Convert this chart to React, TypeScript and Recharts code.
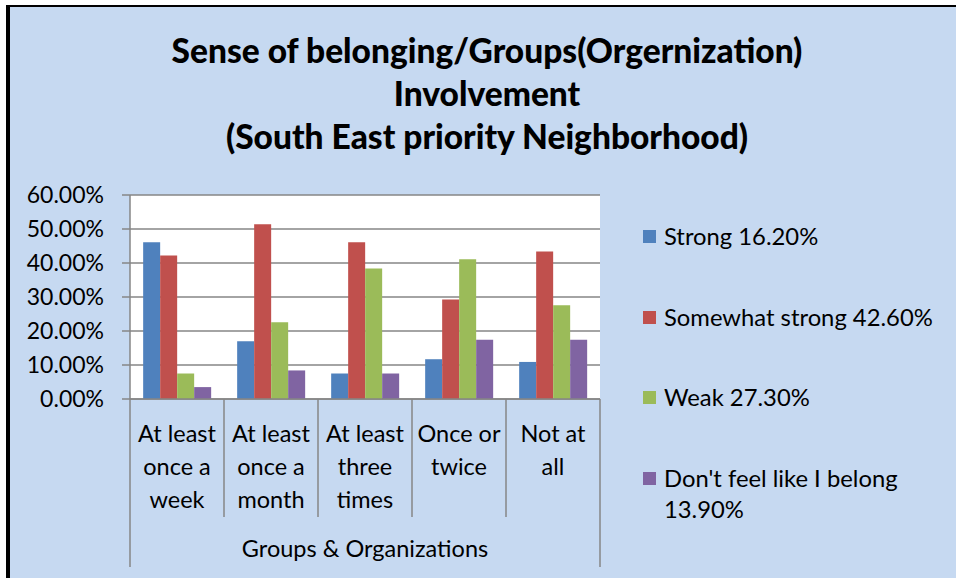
import { BarChart, Bar, XAxis, YAxis, CartesianGrid } from 'recharts'

const titleLines = [
    'Sense of belonging/Groups(Orgernization)',
    'Involvement',
    '(South East priority Neighborhood)',
]
const categories = [
    'At least\nonce a\nweek',
    'At least\nonce a\nmonth',
    'At least\nthree\ntimes',
    'Once or\ntwice',
    'Not at\nall',
]
const groupLabel = 'Groups & Organizations'
const strong = [46.1, 17.0, 7.5, 11.7, 10.9]
const somewhatStrong = [42.2, 51.4, 46.1, 29.3, 43.4]
const weak = [7.5, 22.6, 38.4, 41.1, 27.6]
const dontBelong = [3.5, 8.4, 7.5, 17.4, 17.4]
const seriesNames = ['Strong 16.20%', 'Somewhat strong 42.60%', 'Weak 27.30%', "Don't feel like I belong 13.90%"]
const seriesColors = ['#4F81BD', '#C0504D', '#9BBB59', '#8064A2']
const yTicks = [0, 10, 20, 30, 40, 50, 60]

const data = categories.map((name, i) => ({
    name,
    s0: strong[i],
    s1: somewhatStrong[i],
    s2: weak[i],
    s3: dontBelong[i],
}))

const FONT = 'Lato, "Open Sans", sans-serif'
const AXIS_GRAY = '#868686'

function CategoryTick(props: any) {
    const { x, y, payload, index } = props
    const half = payload.offset ?? 47
    const lines = String(payload.value).split('\n')
    const isLast = index === categories.length - 1
    return (
        <g>
            <line x1={x - half} y1={y} x2={x - half} y2={index === 0 ? y + 168 : y + 118} stroke={AXIS_GRAY} strokeWidth={1.5} />
            {isLast && <line x1={x + half} y1={y} x2={x + half} y2={y + 168} stroke={AXIS_GRAY} strokeWidth={1.5} />}
            <text textAnchor="middle" fontSize={23.5} fill="#000" fontFamily={FONT}>
                {lines.map((l, i) => (
                    <tspan key={i} x={x} y={y + 43 + i * 33}>{l}</tspan>
                ))}
            </text>
            {index === 2 && (
                <text x={x} y={y + 158} textAnchor="middle" fontSize={23.5} fill="#000" fontFamily={FONT}>
                    {groupLabel}
                </text>
            )}
        </g>
    )
}

export default function App() {
    return (
        <div style={{ position: 'fixed', left: 0, top: 0, width: 956, height: 578, background: '#fff', fontFamily: FONT, overflow: 'hidden' }}>
            <div style={{ position: 'absolute', left: 6, top: 5, right: -10, bottom: -10, background: '#C6D9F1', borderLeft: '4px solid #000', borderTop: '2px solid #000' }} />

            {/* title */}
            <div style={{ position: 'absolute', left: 10, width: 954, top: 29, textAlign: 'center', fontWeight: 900, fontSize: 33.5, lineHeight: '43px', color: '#000' }}>
                {titleLines.map((t, i) => <div key={i}>{t}</div>)}
            </div>

            <div style={{ position: 'absolute', left: 0, top: 0 }}>
                <BarChart
                    width={956}
                    height={578}
                    data={data}
                    margin={{ top: 195, right: 356, bottom: 0, left: 0 }}
                    barCategoryGap="14%"
                    barGap={0}
                >
                    <CartesianGrid vertical={false} stroke={AXIS_GRAY} strokeWidth={1.5} fill="#fff" fillOpacity={1} />
                    <XAxis
                        dataKey="name"
                        height={179}
                        interval={0}
                        tickSize={0}
                        tickMargin={0}
                        tickLine={false}
                        axisLine={{ stroke: AXIS_GRAY, strokeWidth: 1.5 }}
                        tick={<CategoryTick />}
                    />
                    <YAxis
                        width={130}
                        domain={[0, 60]}
                        ticks={yTicks}
                        tickSize={8}
                        tickMargin={18}
                        axisLine={{ stroke: AXIS_GRAY, strokeWidth: 1.5 }}
                        tickLine={{ stroke: AXIS_GRAY, strokeWidth: 1.5 }}
                        tick={{ fill: '#000', fontSize: 23, fontFamily: FONT }}
                        tickFormatter={(v: number) => `${v.toFixed(2)}%`}
                    />
                    {seriesNames.map((n, i) => (
                        <Bar key={n} dataKey={`s${i}`} name={n} fill={seriesColors[i]} isAnimationActive={false} />
                    ))}
                </BarChart>
            </div>

            {/* legend */}
            {seriesNames.map((n, i) => (
                <div key={n} style={{ position: 'absolute', left: 643, top: 221 + i * 80.7, width: 305, display: 'flex', alignItems: 'flex-start' }}>
                    <div style={{ width: 13, height: 13, marginTop: 9, background: seriesColors[i], flexShrink: 0 }} />
                    <div style={{ marginLeft: 8, width: 284, fontSize: 23.8, lineHeight: '31px', color: '#000' }}>{n}</div>
                </div>
            ))}
        </div>
    )
}
